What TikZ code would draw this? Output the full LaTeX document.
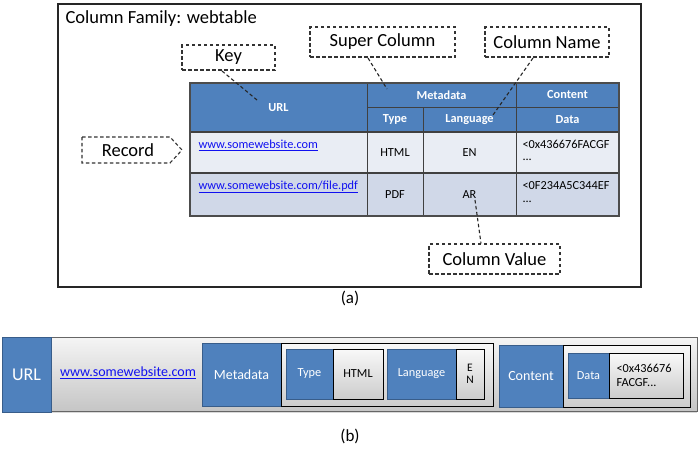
\documentclass[tikz,border=0pt]{standalone}
\usepackage{fontspec}
\setmainfont{Carlito}
\usetikzlibrary{shadows}
\definecolor{hblue}{HTML}{4F81BD}
\definecolor{bblue}{HTML}{385D8A}
\definecolor{rowa}{HTML}{E9EDF4}
\definecolor{rowb}{HTML}{D0D8E8}
\definecolor{lnk}{HTML}{1010F0}
\newcommand{\fsz}[1]{\fontsize{#1}{#1}\selectfont}
\begin{document}
\begin{tikzpicture}[x=1pt,y=-1pt,
  callout/.style={draw=black!80, line width=1.1pt, dash pattern=on 3.5pt off 2.5pt, inner sep=0pt, font=\fsz{18.5}},
  conn/.style={draw=black!85, line width=1.1pt, dash pattern=on 3.5pt off 2.5pt},
  cell/.style={anchor=north west, inner sep=0pt, outer sep=0pt, draw=black!75, line width=1pt},
  hcell/.style={cell, fill=hblue, text=white, font=\bfseries\fsz{12.3}},
  ra/.style={cell, fill=rowa, font=\fsz{12.3}},
  rb/.style={cell, fill=rowb, font=\fsz{12.3}},
  link/.style={text=lnk},
  bbox/.style={anchor=north west, inner sep=0pt, outer sep=0pt, fill=hblue, draw=bblue, line width=1pt, text=white},
  gbox/.style={anchor=north west, inner sep=0pt, outer sep=0pt, top color=gray!5, bottom color=gray!40, draw=black, line width=1pt, drop shadow={shadow xshift=1pt, shadow yshift=-1.2pt, opacity=0.35}},
]
\useasboundingbox (0,0) rectangle (700,455);

% ---------- (a) ----------
\node[anchor=north west, draw=black!85, line width=2pt, minimum width=583pt, minimum height=283pt, inner sep=0pt] (family) at (57,3) {};
\node[anchor=west, font=\fsz{18.5}] (title) at (62,19) {Column Family: webtable};

% header
\node[hcell, minimum width=177pt, minimum height=49pt] (hurl) at (190,83) {URL};
\node[hcell, minimum width=149pt, minimum height=24pt] (hmeta) at (367,83) {Metadata};
\node[hcell, minimum width=103pt, minimum height=24pt] (hcont) at (516,83) {Content};
\node[hcell, minimum width=56pt, minimum height=25pt] (htype) at (367,107) {Type};
\node[hcell, minimum width=93pt, minimum height=25pt] (hlang) at (423,107) {Language};
\node[hcell, minimum width=103pt, minimum height=25pt] (hdata) at (516,107) {Data};
% row 1
\node[ra, minimum width=177pt, minimum height=41pt] (url1) at (190,132) {};
\node[ra, minimum width=56pt, minimum height=41pt] (type1) at (367,132) {HTML};
\node[ra, minimum width=93pt, minimum height=41pt] (lang1) at (423,132) {EN};
\node[ra, minimum width=103pt, minimum height=41pt] (data1) at (516,132) {};
% row 2
\node[rb, minimum width=177pt, minimum height=43pt] (url2) at (190,173) {};
\node[rb, minimum width=56pt, minimum height=43pt] (type2) at (367,173) {PDF};
\node[rb, minimum width=93pt, minimum height=43pt] (lang2) at (423,173) {AR};
\node[rb, minimum width=103pt, minimum height=43pt] (data2) at (516,173) {};
\draw[black!75, line width=1.6pt] (url1.north west) -- (data1.north east);
\draw[black!75, line width=1.6pt] (url2.north west) -- (data2.north east);
\draw[black!70, line width=1.4pt] (hurl.north west) rectangle (data2.south east);

\node[anchor=west, link, font=\fsz{12.3}] (u1) at (195,145) {\underline{www.somewebsite.com}};
\node[anchor=west, link, font=\fsz{12.3}] (u2) at (195,187) {\underline{www.somewebsite.com/file.pdf}};
\node[anchor=west, font=\fsz{12.3}] (d1a) at (519,144) {<0x436676FACGF};
\node[anchor=west, font=\fsz{12.3}] (d1b) at (519,160) {...};
\node[anchor=west, font=\fsz{12.3}] (d2a) at (519,186) {<0F234A5C344EF};
\node[anchor=west, font=\fsz{12.3}] (d2b) at (519,202) {...};

% callouts
\node[callout, minimum width=93pt, minimum height=25pt] (key) at (228.5,57.5) {Key};
\node[callout, minimum width=145pt, minimum height=30pt] (super) at (382.5,42) {Super Column};
\node[callout, minimum width=124pt, minimum height=30pt] (cname) at (547,42) {Column Name};
\node[callout, minimum width=131pt, minimum height=30pt] (cvalue) at (494.5,259) {Column Value};
\draw[draw=black!80, line width=1.1pt, dash pattern=on 3.5pt off 2.5pt] (82,137) -- (170,137) -- (182,150) -- (170,163) -- (82,163) -- cycle;
\node[font=\fsz{18.5}] (record) at (128,150.5) {Record};

\coordinate (keys) at (222,71);
\coordinate (keye) at (257,100);
\coordinate (sups) at (368,58);
\coordinate (supe) at (387,89);
\coordinate (cns) at (533,58);
\coordinate (cne) at (493,115);
\coordinate (cvs) at (475,200);
\draw[conn] (keys) -- (keye);
\draw[conn] (sups) -- (supe);
\draw[conn] (cns) -- (cne);
\draw[conn] (cvs) -- (cvalue.north -| 481,0);

\node[font=\fsz{17}] (capa) at (350,298) {(a)};

% ---------- (b) ----------
\node[anchor=north west, inner sep=0pt, outer sep=0pt, top color=gray!8, bottom color=gray!45, draw=black!60, line width=1pt, minimum width=646pt, minimum height=74pt, drop shadow={shadow xshift=0pt, shadow yshift=-2pt, opacity=0.3}] (bar) at (51,337) {};
\node[bbox, minimum width=49pt, minimum height=75pt, font=\fsz{18}] (burl) at (2,337) {URL};
\node[link, font=\fsz{14}] (blink) at (128,373) {\underline{www.somewebsite.com}};

\node[bbox, minimum width=79pt, minimum height=63pt, font=\fsz{14}] (bmeta) at (202,343) {Metadata};
\node[gbox, minimum width=212pt, minimum height=63pt] (mcont) at (281,343) {};
\node[bbox, minimum width=47pt, minimum height=50pt, font=\fsz{12.3}] (btype) at (286,349) {Type};
\node[gbox, minimum width=50pt, minimum height=50pt, font=\fsz{12.3}] (bhtml) at (333,349) {HTML};
\node[bbox, minimum width=69pt, minimum height=50pt, font=\fsz{12.3}] (blang) at (387,349) {Language};
\node[gbox, minimum width=28pt, minimum height=50pt, font=\fsz{11.5}, align=center] (ben) at (456,349) {E\\[1pt]N};

\node[bbox, minimum width=64pt, minimum height=62pt, font=\fsz{14}] (bcont) at (499,345) {Content};
\node[gbox, minimum width=127pt, minimum height=62pt] (ccont) at (563,345) {};
\node[bbox, minimum width=41pt, minimum height=45pt, font=\fsz{12.3}] (bdata) at (568,353) {Data};
\node[gbox, minimum width=74pt, minimum height=45pt] (bval) at (609,353) {};
\node[anchor=west, align=left, font=\fsz{12.3}] (bvaltext) at (613,375.5) {<0x436676\\[2pt]FACGF...};

\node[font=\fsz{17}] (capb) at (350,436) {(b)};
\end{tikzpicture}
\end{document}
